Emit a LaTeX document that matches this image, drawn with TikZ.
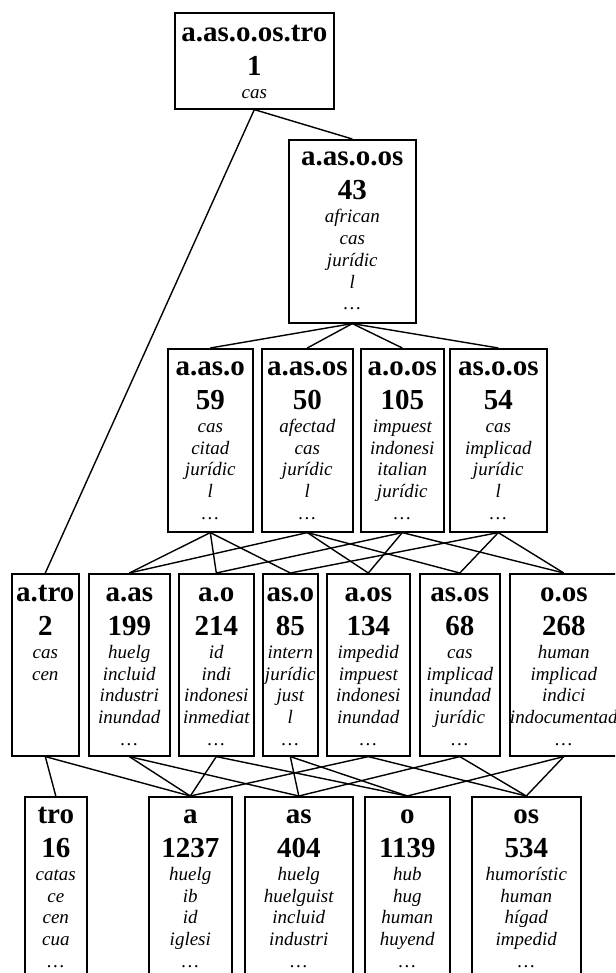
\documentclass[tikz,border=0pt]{standalone}
\usepackage{fontspec}
\setmainfont{Liberation Serif}
\usetikzlibrary{calc}
\newcommand\ttlfont{\bfseries\fontsize{29}{34}\selectfont}
\newcommand\wrdfont{\itshape\fontsize{19}{21.7}\selectfont}
\newcommand\ctrline[1]{\hbox to 0pt{\hss\smash{#1}\hss}}
\tikzset{
  lbx/.style={draw, line width=1.6pt, rectangle, inner sep=0pt},
  edge/.style={line width=1.4pt},
}
% name, xl, xr, ytop, ybot, title offset, title, number, words
\newcommand\lbox[9]{%
  \node[lbx, minimum width={#3-#2}, minimum height={#5-#4}, anchor=north west] (#1) at (#2,#4) {};
  \node[inner sep=0pt, anchor=base] (#1-txt) at ($(#1.north)+(0,#6)$) {\vtop{\offinterlineskip
      \ctrline{\ttlfont #7}\vskip34pt
      \ctrline{\ttlfont #8}\vskip23.5pt
      \foreach \w in {#9}{\ctrline{\wrdfont\w}\vskip21.7pt}}};
}
\begin{document}
\begin{tikzpicture}[x=1pt,y=-1pt]
\clip (0,0) rectangle (615,973);
% row 1
\lbox{T}{174}{333}{12}{108}{29.5}{a.as.o.os.tro}{1}{cas}
% row 2
\lbox{n43}{288}{415}{139}{322}{26.5}{a.as.o.os}{43}{african,cas,jurídic,l,\ldots}
% row 3
\lbox{aaso}{167}{252}{348}{531}{27}{a.as.o}{59}{cas,citad,jurídic,l,\ldots}
\lbox{aasos}{261}{352}{348}{531}{27}{a.as.os}{50}{afectad,cas,jurídic,l,\ldots}
\lbox{aoos}{360}{443}{348}{531}{27}{a.o.os}{105}{impuest,indonesi,italian,jurídic,\ldots}
\lbox{asoos}{449}{546}{348}{531}{27}{as.o.os}{54}{cas,implicad,jurídic,l,\ldots}
% row 4
\lbox{atro}{11}{78}{573}{755}{28}{a.tro}{2}{cas,cen}
\lbox{aas}{88}{169}{573}{755}{28}{a.as}{199}{huelg,incluid,industri,inundad,\ldots}
\lbox{ao}{178}{253}{573}{755}{28}{a.o}{214}{id,indi,indonesi,inmediat,\ldots}
\lbox{aso}{262}{317}{573}{755}{28}{as.o}{85}{intern,jurídic,just,l,\ldots}
\lbox{aos}{326}{409}{573}{755}{28}{a.os}{134}{impedid,impuest,indonesi,inundad,\ldots}
\lbox{asos}{419}{499}{573}{755}{28}{as.os}{68}{cas,implicad,inundad,jurídic,\ldots}
\lbox{oos}{509}{617}{573}{755}{28}{o.os}{268}{human,implicad,indici,indocumentad,\ldots}
% row 5
\lbox{ntro}{24}{86}{796}{1010}{27}{tro}{16}{catas,ce,cen,cua,\ldots}
\lbox{na}{148}{231}{796}{1010}{27}{a}{1237}{huelg,ib,id,iglesi,\ldots}
\lbox{nas}{244}{352}{796}{1010}{27}{as}{404}{huelg,huelguist,incluid,industri,\ldots}
\lbox{no}{364}{449}{796}{1010}{27}{o}{1139}{hub,hug,human,huyend,\ldots}
\lbox{nos}{471}{580}{796}{1010}{27}{os}{534}{humorístic,human,hígad,impedid,\ldots}
% edges
\draw[edge] (T.south) -- (n43.north);
\draw[edge] (T.south) -- (atro.north);
\foreach \t in {aaso,aasos,aoos,asoos} {\draw[edge] (n43.south) -- (\t.north);}
\foreach \t in {aas,ao,aso} {\draw[edge] (aaso.south) -- (\t.north);}
\foreach \t in {aas,aos,asos} {\draw[edge] (aasos.south) -- (\t.north);}
\foreach \t in {ao,aos,oos} {\draw[edge] (aoos.south) -- (\t.north);}
\foreach \t in {aso,asos,oos} {\draw[edge] (asoos.south) -- (\t.north);}
\foreach \t in {ntro,na} {\draw[edge] (atro.south) -- (\t.north);}
\foreach \t in {na,nas} {\draw[edge] (aas.south) -- (\t.north);}
\foreach \t in {na,no} {\draw[edge] (ao.south) -- (\t.north);}
\foreach \t in {nas,no} {\draw[edge] (aso.south) -- (\t.north);}
\foreach \t in {na,nos} {\draw[edge] (aos.south) -- (\t.north);}
\foreach \t in {nas,nos} {\draw[edge] (asos.south) -- (\t.north);}
\foreach \t in {no,nos} {\draw[edge] (oos.south) -- (\t.north);}
\end{tikzpicture}
\end{document}
